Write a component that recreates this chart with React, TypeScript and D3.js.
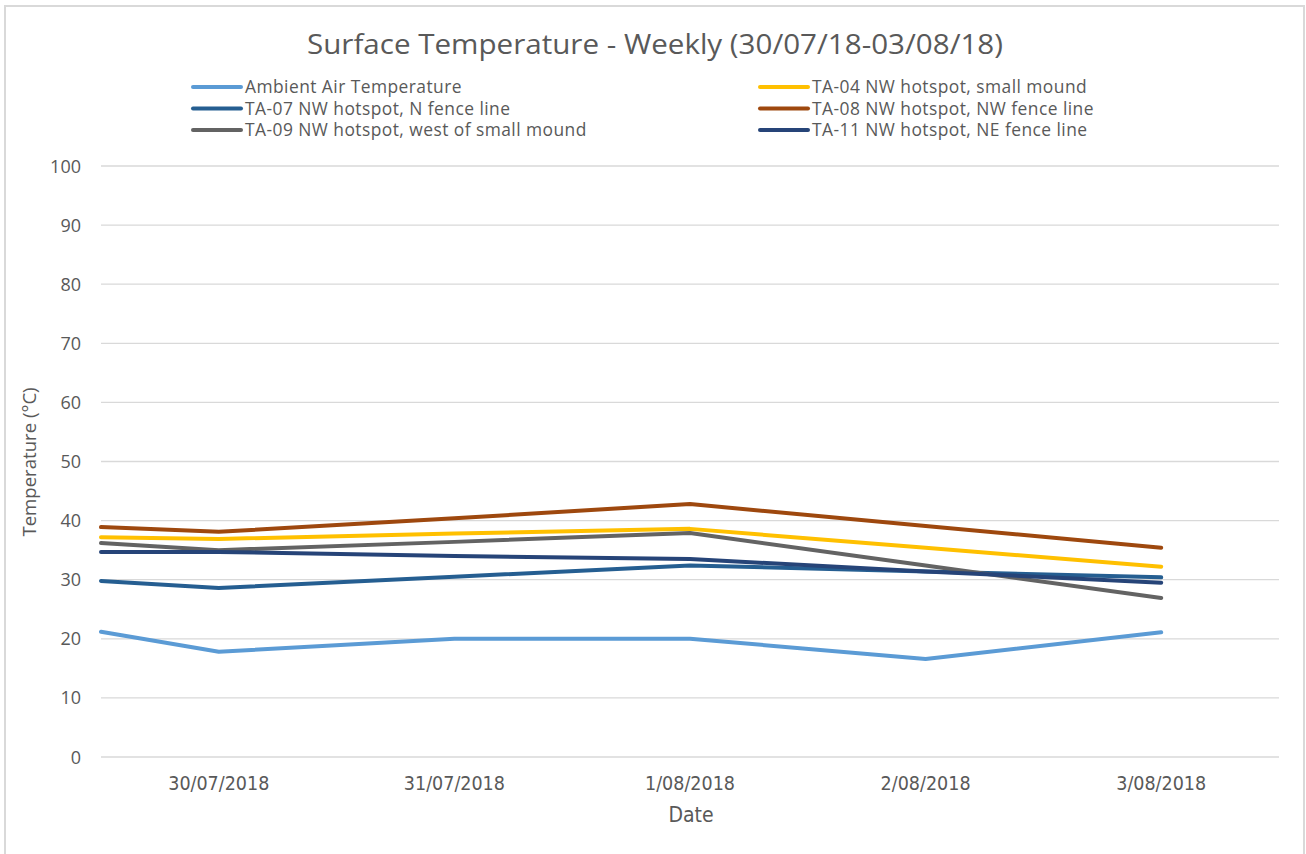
import React from 'react';
import * as d3 from 'd3';

// sample times (first reading is before the first labelled day)
const times = ['2018-07-29T12:00', '2018-07-30T00:00', '2018-07-31T00:00', '2018-08-01T00:00', '2018-08-02T00:00', '2018-08-03T00:00'];
const tickDays = ['2018-07-30', '2018-07-31', '2018-08-01', '2018-08-02', '2018-08-03'];

const ambient = [21.2, 17.8, 20.0, 20.0, 16.6, 21.1];
const ta04 = [37.2, 36.9, 37.8, 38.6, 35.4, 32.2];
const ta07 = [29.8, 28.6, 30.5, 32.4, 31.4, 30.4];
const ta08 = [38.9, 38.1, 40.4, 42.8, 39.1, 35.4];
const ta09 = [36.2, 35.0, 36.4, 37.9, 32.4, 26.9];
const ta11 = [34.7, 34.7, 34.0, 33.5, 31.4, 29.5];

const yTicks = [0, 10, 20, 30, 40, 50, 60, 70, 80, 90, 100];

const series = [
  { name: 'Ambient Air Temperature', values: ambient, color: '#5B9BD5' },
  { name: 'TA-04 NW hotspot, small mound', values: ta04, color: '#FFC000' },
  { name: 'TA-07 NW hotspot, N fence line', values: ta07, color: '#255E91' },
  { name: 'TA-08 NW hotspot, NW fence line', values: ta08, color: '#9E480E' },
  { name: 'TA-09 NW hotspot, west of small mound', values: ta09, color: '#636363' },
  { name: 'TA-11 NW hotspot, NE fence line', values: ta11, color: '#264478' },
];

// drawing order (last on top)
const drawOrder = [0, 2, 4, 1, 3, 5];

const W = 1306;
const H = 854;
const plot = { left: 101, right: 1279, top: 166, bottom: 757 };
const font = '"Open Sans", sans-serif';
const narrow = '"Liberation Sans Narrow", "DejaVu Sans Condensed", sans-serif';
const txt = '#595959';

export default function App() {
  const parse = d3.timeParse('%Y-%m-%dT%H:%M');
  const parseDay = d3.timeParse('%Y-%m-%d');
  const x = d3.scaleTime()
    .domain([parse('2018-07-29T12:00')!, parse('2018-08-03T12:00')!])
    .range([plot.left, plot.right]);
  const y = d3.scaleLinear().domain([0, 100]).range([plot.bottom, plot.top]);
  const fmt = d3.timeFormat('%-d/%m/%Y');
  const dates = times.map(t => parse(t)!);

  const line = d3.line<number>()
    .x((_, i) => x(dates[i]))
    .y(d => y(d));

  return (
    <svg width={W} height={H} style={{ position: 'absolute', left: 0, top: 0, background: '#fff' }}>
      <rect x={5} y={6} width={1299} height={H + 10} fill="#fff" stroke="#d9d9d9" strokeWidth={2} />
      <text x={655} y={54} textAnchor="middle" fontFamily={font} fontSize={28} fill={txt}
        textLength={696} lengthAdjust="spacingAndGlyphs">
        Surface Temperature - Weekly (30/07/18-03/08/18)
      </text>

      {series.map((s, i) => {
        const col = i % 2;
        const row = Math.floor(i / 2);
        const lx = col === 0 ? 193 : 760;
        const ly = 87 + row * 21.5;
        return (
          <g key={s.name}>
            <line x1={lx} x2={lx + 48} y1={ly} y2={ly} stroke={s.color} strokeWidth={4} strokeLinecap="round" />
            <text x={lx + 52} y={ly + 6} fontFamily={font} fontSize={17.4} letterSpacing={0.45} fill={txt}>{s.name}</text>
          </g>
        );
      })}

      {yTicks.map(t => (
        <g key={t}>
          <line x1={plot.left} x2={plot.right} y1={y(t)} y2={y(t)} stroke="#d9d9d9" strokeWidth={1.3} />
          <text x={81} y={y(t) + 6.5} textAnchor="end" fontFamily={font} fontSize={18} fill={txt}>{t}</text>
        </g>
      ))}

      {tickDays.map(d => {
        const dt = parseDay(d)!;
        return (
          <text key={d} x={x(dt)} y={790} textAnchor="middle" fontFamily={narrow} fontSize={19.5} fill={txt}>
            {fmt(dt)}
          </text>
        );
      })}

      <text x={691} y={822} textAnchor="middle" fontFamily={narrow} fontSize={21} fill={txt}>Date</text>
      <text transform={`translate(36,${462}) rotate(-90)`} textAnchor="middle" fontFamily={font} fontSize={18.6} fill={txt}>
        Temperature (°C)
      </text>

      {drawOrder.map(i => (
        <path key={series[i].name} d={line(series[i].values) || ''} fill="none"
          stroke={series[i].color} strokeWidth={4} strokeLinejoin="round" strokeLinecap="round" />
      ))}
    </svg>
  );
}
